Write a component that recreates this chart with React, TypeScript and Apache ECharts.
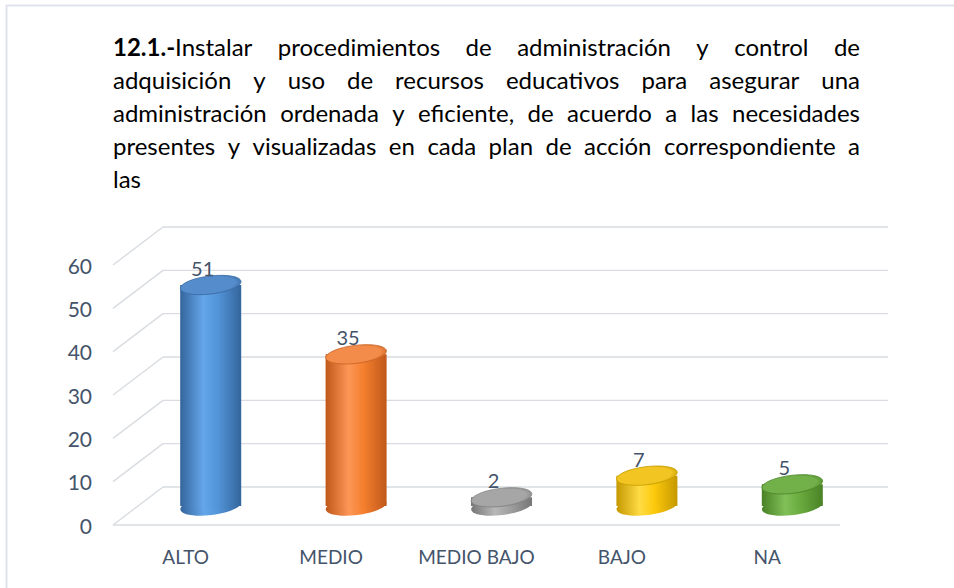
import React, { useEffect, useRef } from "react";
import * as echarts from "echarts";

const categories = ["ALTO", "MEDIO", "MEDIO BAJO", "BAJO", "NA"];
const values = [51, 35, 2, 7, 5];
const yTicks = [0, 10, 20, 30, 40, 50, 60];

const titleLead = "12.1.-";
const titleLines = [
  "Instalar procedimientos de administración y control de",
  "adquisición y uso de recursos educativos para asegurar una",
  "administración ordenada y eficiente, de acuerdo a las necesidades",
  "presentes y visualizadas en cada plan de acción correspondiente a",
  "las",
];

// cylinder shading per category: side edge, side highlight, side middle, cap light, cap dark
const shades = [
  ["#34659c", "#64a6ea", "#5294d8", "#558ccc", "#3b6ca4"],
  ["#c0581a", "#fd9656", "#f47f2e", "#f38c4a", "#cd6322"],
  ["#767676", "#b8b8b8", "#a0a0a0", "#a6a6a6", "#828282"],
  ["#c59800", "#ffdc45", "#fcc90c", "#f2c522", "#c79e00"],
  ["#4a8226", "#80c058", "#6aab3f", "#72b049", "#4d872a"],
];

const FONT = "Lato, 'Open Sans', sans-serif";
const TEXT_COLOR = "#44546a";
const GRID_COLOR = "#d9dce1";
const DX = 50; // depth offset of the back wall
const DY = -38;

// Justified paragraph: each word placed so that every line but the last spans the full width.
function buildTitle(): any[] {
  const ctx = document.createElement("canvas").getContext("2d")!;
  const size = 24;
  const left = 113;
  const right = 860;
  const top0 = 46;
  const lh = 33.2;
  const measure = (s: string, bold: boolean) => {
    ctx.font = `${bold ? "bold" : "normal"} ${size}px Lato`;
    return ctx.measureText(s).width;
  };
  const els: any[] = [];
  titleLines.forEach((line, li) => {
    const words = line.split(" ");
    const segs = words.map((w, wi) =>
      li === 0 && wi === 0
        ? [{ t: titleLead, b: true }, { t: w, b: false }]
        : [{ t: w, b: false }]
    );
    const widths = segs.map((s) => s.reduce((a, p) => a + measure(p.t, p.b), 0));
    const total = widths.reduce((a, b) => a + b, 0);
    const last = li === titleLines.length - 1;
    const gap =
      last || words.length < 2
        ? measure(" ", false)
        : (right - left - total) / (words.length - 1);
    let x = left;
    segs.forEach((s, si) => {
      let px = x;
      s.forEach((p) => {
        els.push({
          type: "text",
          x: px,
          y: top0 + li * lh,
          style: {
            text: p.t,
            fill: "#000000",
            fontSize: size,
            fontFamily: FONT,
            fontWeight: p.b ? "bold" : "normal",
            align: "left",
            verticalAlign: "middle",
          },
        });
        px += measure(p.t, p.b);
      });
      x += widths[si] + gap;
    });
  });
  return els;
}

export default function App() {
  const ref = useRef<HTMLDivElement>(null);

  useEffect(() => {
    document.body.style.margin = "0";
    const chart = echarts.init(ref.current!, undefined, { renderer: "svg" });

    const RX = 30.5;
    const RY = 9;
    const TILT = 0.12;

    const option: any = {
      animation: false,
      backgroundColor: "#ffffff",
      grid: { left: 113, right: 114, top: 265, bottom: 63 },
      xAxis: {
        type: "category",
        data: categories,
        axisLine: { show: false },
        axisTick: { show: false },
        splitLine: { show: false },
        axisLabel: {
          interval: 0,
          color: TEXT_COLOR,
          fontSize: 19,
          fontFamily: FONT,
          margin: 22,
        },
      },
      yAxis: {
        type: "value",
        min: 0,
        max: 60,
        interval: 10,
        axisLine: { show: false },
        axisTick: { show: false },
        splitLine: { show: false },
        axisLabel: {
          color: TEXT_COLOR,
          fontSize: 21,
          fontFamily: FONT,
          margin: 21,
        },
      },
      graphic: [
        {
          type: "line",
          shape: { x1: 6, y1: 5.5, x2: 954, y2: 5.5 },
          style: { stroke: "#dfe4ec", lineWidth: 2 },
        },
        {
          type: "line",
          shape: { x1: 6.5, y1: 5, x2: 6.5, y2: 588 },
          style: { stroke: "#dfe4ec", lineWidth: 2 },
        },
        ...buildTitle(),
      ],
      series: [
        {
          type: "custom",
          name: "walls",
          clip: false,
          silent: true,
          z: 1,
          data: yTicks.map((v) => [0, v]),
          renderItem: (params: any, api: any) => {
            const cs = params.coordSys;
            const v = api.value(1);
            const y = api.coord([0, v])[1];
            const children: any[] = [
              {
                type: "line",
                shape: { x1: cs.x, y1: y, x2: cs.x + DX, y2: y + DY },
                style: { stroke: GRID_COLOR, lineWidth: 1.4 },
              },
              {
                type: "line",
                shape: {
                  x1: cs.x + DX,
                  y1: y + DY,
                  x2: cs.x + cs.width + DX - 2,
                  y2: y + DY,
                },
                style: { stroke: GRID_COLOR, lineWidth: 1.4 },
              },
            ];
            if (v === 0) {
              children.push({
                type: "line",
                shape: { x1: cs.x, y1: y, x2: cs.x + cs.width, y2: y },
                style: { stroke: GRID_COLOR, lineWidth: 1.4 },
              });
            }
            return { type: "group", children };
          },
        },
        {
          type: "custom",
          name: "bars",
          clip: false,
          z: 2,
          data: values.map((v, i) => [i, v]),
          renderItem: (params: any, api: any) => {
            const idx = api.value(0);
            const v = api.value(1);
            const base = api.coord([idx, 0]);
            const top = api.coord([idx, v]);
            const cx = base[0] + DX / 2;
            const by = base[1] + DY / 2;
            const ty = top[1] + DY / 2;
            const [edge, light, mid, capLight, capDark] = shades[idx];
            const side = {
              type: "linear",
              x: 0,
              y: 0,
              x2: 1,
              y2: 0,
              colorStops: [
                { offset: 0, color: edge },
                { offset: 0.38, color: light },
                { offset: 0.62, color: mid },
                { offset: 1, color: edge },
              ],
            };
            const cap = {
              type: "radial",
              x: 0.45,
              y: 0.5,
              r: 0.6,
              colorStops: [
                { offset: 0, color: capLight },
                { offset: 0.75, color: capLight },
                { offset: 1, color: capDark },
              ],
            };
            return {
              type: "group",
              children: [
                {
                  type: "ellipse",
                  x: cx,
                  y: by,
                  rotation: TILT,
                  shape: { cx: 0, cy: 0, rx: RX, ry: RY },
                  style: { fill: side },
                },
                {
                  type: "rect",
                  shape: { x: cx - RX, y: ty, width: RX * 2, height: by - ty },
                  style: { fill: side },
                },
                {
                  type: "ellipse",
                  x: cx,
                  y: ty,
                  rotation: TILT,
                  shape: { cx: 0, cy: 0, rx: RX, ry: RY },
                  style: { fill: cap, stroke: capDark, lineWidth: 0.8 },
                },
                {
                  type: "text",
                  x: cx - 8,
                  y: ty - 17,
                  style: {
                    text: String(v),
                    fill: TEXT_COLOR,
                    fontSize: 20,
                    fontFamily: FONT,
                    align: "center",
                    verticalAlign: "middle",
                  },
                },
              ],
            };
          },
        },
      ],
    };

    chart.setOption(option);
    return () => chart.dispose();
  }, []);

  return <div ref={ref} style={{ width: 954, height: 588 }} />;
}
